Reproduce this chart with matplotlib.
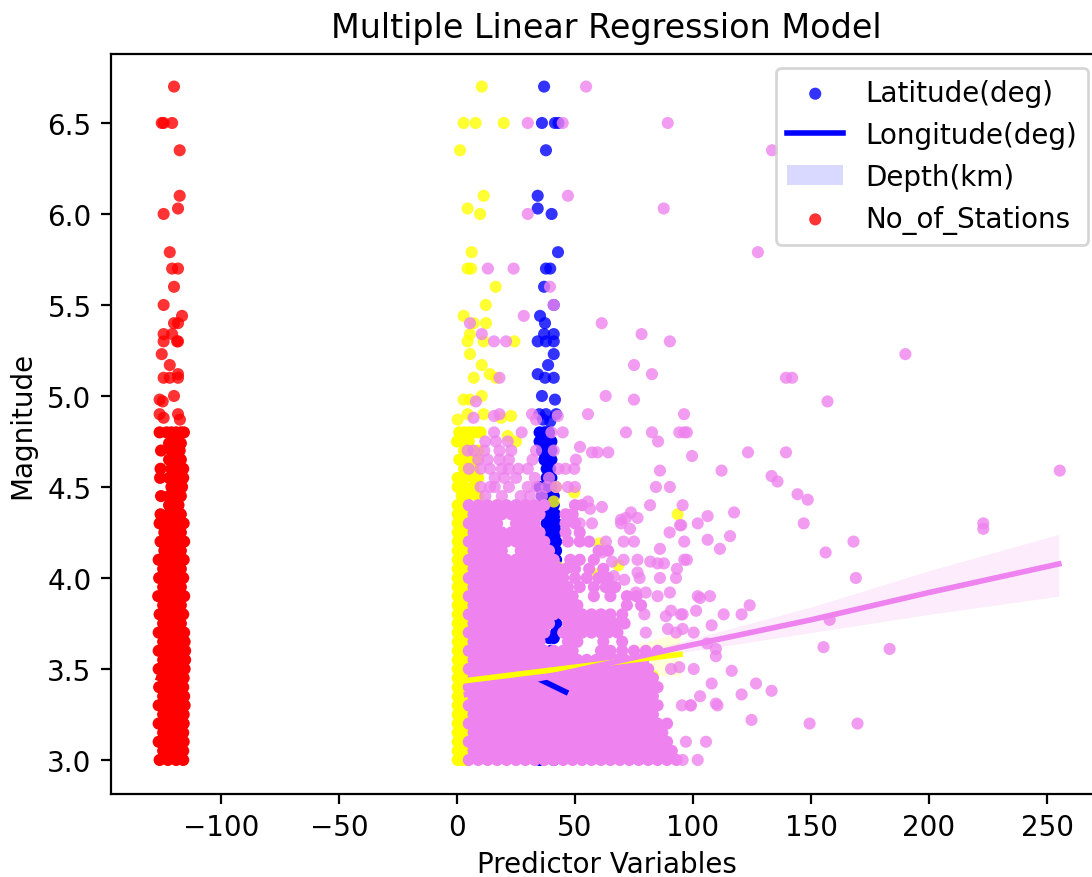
import numpy as np
from matplotlib import pyplot as plt
from matplotlib.colors import to_rgba

# Pontos isolados (x, y)
lat_x = [36.9, 36, 41.5, 43, 37.7, 34.2, 34.2, 40.1, 42.8, 37.7, 39.5, 36.9, 41, 35.2, 37.3, 36.9, 41, 34.2, 37.7, 41,
         41, 38.6, 34.2, 37.3, 41, 36, 41.5, 34.9, 37.7, 42, 36.5, 39.5]
lat_y = [6.7, 6.5, 6.5, 6.5, 6.35, 6.1, 6.03, 6.0, 5.79, 5.7, 5.7, 5.6, 5.5, 5.44, 5.4, 5.34, 5.34, 5.3, 5.3, 5.3,
         5.23, 5.17, 5.12, 5.1, 5.1, 5.0, 4.98, 4.9, 4.9, 4.9, 4.87, 4.86]
# Linhas densas (magnitude, valores de x)
lat_rows = [(4.8, [35, 37, 38, 39]), (4.75, [35, 37, 39, 40]), (4.7, [36, 38, 40]), (4.65, [37, 38.5, 40]),
            (4.6, [38, 39.5]), (4.55, [38, 40]), (4.5, [35, 38, 40]), (4.45, [36, 39, 41]), (4.4, [37, 39, 41]),
            (4.35, [37, 39, 40, 41.5]), (4.3, [38, 40, 41, 42]), (4.25, [39, 40, 42]), (4.2, [40, 41, 42]),
            (4.15, [41, 42]), (4.1, [40, 42]), (4.05, [39, 42.5]),
            (4.0, [33, 39]), (3.9, [36, 40]), (3.75, [42]), (3.7, [42]), (3.67, [39, 41]), (3.6, [35, 40]),
            (3.4, [37, 41]), (3.2, [35, 41]), (3.0, [35, 41])]

lon_x = [-119.9, -125.1, -124.3, -120.7, -117.5, -117.5, -118.2, -124.3, -121.7, -120.7, -118.2, -119.9, -124.3,
         -116.5, -119.9, -118.2, -124.3, -120.7, -124.3, -118.2, -118.6, -125.1, -121.7, -124.3, -121.7, -118.2,
         -118.2, -119.9, -126, -124.7, -126, -124.3, -118.2, -117.4]
lon_y = [6.7, 6.5, 6.5, 6.5, 6.35, 6.1, 6.03, 6.0, 5.79, 5.7, 5.7, 5.6, 5.5, 5.44, 5.4, 5.4, 5.34, 5.34, 5.3, 5.3,
         5.3, 5.23, 5.17, 5.1, 5.1, 5.12, 5.1, 5.0, 4.98, 4.97, 4.9, 4.88, 4.9, 4.87]
lon_rows = [(4.8, [-126, -123, -121, -119, -117, -115.7]), (4.74, [-122, -120, -118, -117]),
            (4.7, [-125.4, -121, -119, -117.5]), (4.65, [-122, -119, -117]), (4.6, [-125.6, -121, -118, -116]),
            (4.55, [-125.8, -122, -119, -116]), (4.5, [-121, -118, -116.5]), (4.45, [-125.4, -122, -119, -117]),
            (4.4, [-122, -120, -118]), (4.35, [-125.6, -122, -119, -117]), (4.3, [-126, -122.5, -119, -115.8]),
            (4.25, [-124, -120.5, -117]), (4.2, [-125.6, -122.5, -119, -115.6]),
            (4.15, [-124, -120.5, -117]), (4.1, [-126.4, -122.5, -119, -115.8]),
            (4.05, [-124.5, -120.5, -117]), (4.0, [-126.2, -122.5, -119, -116]),
            (3.95, [-124.5, -120.5, -117]), (3.9, [-126.6, -122.5, -119, -115.6]),
            (3.85, [-124.5, -120.5, -117]), (3.8, [-126, -122.5, -119, -116]),
            (3.75, [-124.5, -120.5, -117]), (3.7, [-126.4, -122.5, -119, -115.6]),
            (3.65, [-124.5, -120.5, -117, -115.4]), (3.6, [-126.4, -122.5, -119, -115.2]),
            (3.55, [-124.5, -120.5, -117, -115.2]), (3.5, [-126.4, -122.5, -119, -115.4]),
            (3.45, [-124.5, -120.5, -117, -115.8]), (3.4, [-126.2, -122.5, -119, -116]),
            (3.35, [-124.5, -120.5, -117, -115.6]), (3.3, [-126.4, -122.5, -119, -115.4]),
            (3.25, [-124.5, -120.5, -117, -115.8]), (3.2, [-126.4, -122.5, -119, -115.8]),
            (3.15, [-124.5, -120.5, -117, -116]), (3.1, [-126.4, -122.5, -119, -115.8]),
            (3.05, [-124.5, -120.5, -117, -116]), (3.0, [-126, -122.5, -119, -116])]

depth_x = [10.5, 2.8, 7.9, 19.8, 1.3, 11.3, 4.5, 9.8, 6.2, 4.5, 6, 16.4, 12.2, 2.8, 7.1, 12.3, 5.5, 4.5, 11.3, 24.3,
           5.5, 10.5, 7.1, 13.9, 16.5, 10.5, 2.8, 5.5, 4.5, 11.3, 0.3, 18.7, 22.9, 21.5, 25, 49.7, 42, 41, 93.5, 83,
           87, 14.4, 20, 11.6, 20.8, 30, 42.7, 59.2, 60.3, 68.4, 11.6, 30.6]
depth_y = [6.7, 6.5, 6.5, 6.5, 6.35, 6.1, 6.03, 6.0, 5.79, 5.7, 5.7, 5.6, 5.5, 5.44, 5.4, 5.4, 5.34, 5.3, 5.3, 5.3,
           5.23, 5.17, 5.1, 5.12, 5.1, 5.0, 4.98, 4.98, 4.9, 4.9, 4.87, 4.88, 4.89, 4.78, 4.75, 4.47, 4.5, 4.42, 4.35,
           3.46, 3.06, 4.3, 4.2, 4.15, 4.06, 4.25, 4.06, 4.02, 4.19, 4.07, 3.86, 3.87]
depth_rows = [(4.8, [1, 3, 5, 7, 9, 10]), (4.75, [0, 2, 5]), (4.7, [3, 6, 9]), (4.65, [1, 4, 8]), (4.6, [3, 5, 7]),
              (4.55, [0.3, 3, 7, 9]), (4.5, [0.3, 3, 7]), (4.45, [2, 4.5, 9]), (4.4, [0.3, 2, 5, 10, 17]),
              (4.35, [0.3, 2, 6, 10]), (4.3, [0.3, 2, 6]), (4.25, [0.3, 2, 4]), (4.2, [0.3, 2, 4]), (4.15, [0.3, 2, 4]),
              (4.1, [0.3, 2, 4]), (4.05, [0.3, 2, 4]), (4.0, [0.3, 2, 4]), (3.95, [0.3, 2, 4]), (3.9, [0.3, 2, 4]),
              (3.85, [0.3, 2, 4]), (3.8, [0.3, 2, 4]), (3.75, [0.3, 2, 4]), (3.7, [0.3, 2, 4]), (3.65, [0.3, 2, 4]),
              (3.6, [0.3, 2, 4]), (3.55, [0.3, 2, 4]), (3.5, [0.3, 2, 4]), (3.45, [0.3, 2, 4]), (3.4, [0.3, 2, 4]),
              (3.35, [0.3, 2, 4]), (3.3, [0.3, 2, 4]), (3.25, [0.3, 2, 4]), (3.2, [0.3, 2, 4]), (3.15, [0.3, 2, 4]),
              (3.1, [0.3, 2, 4]), (3.05, [0.3, 2, 4]), (3.0, [0.3, 2, 4])]

stations_x = [54.7, 30, 44.8, 89.3, 133.5, 47, 30, 87.6, 127.5, 13.1, 24, 39.4, 41, 28.3, 5.5, 61.3, 10.5, 78.2, 15.7,
              20.8, 90.2, 75, 82.6, 18, 63, 75, 8, 55.5, 96.2, 7, 15.7, 18, 31.8, 33.5, 42.7, 190, 139.4, 142, 157,
              255.4, 223, 223, 168, 156.2, 169, 157.9, 155.3, 183.3, 169.7, 149.4, 124.8, 133.3, 126.7, 120.6, 116.4,
              107.9, 103, 109.7, 110.4, 100.3, 99, 97, 105.5, 102, 95.6, 109.7, 109.7, 106, 100.3, 107.9, 113, 120.6,
              124, 101.3, 95.6, 95.6, 102, 103, 107.2, 96.3, 97.4, 111.4, 106.2, 115.7, 96.3, 146.9, 102, 95, 106.2,
              117.4, 95.6, 148.6, 144.3, 135.8, 133.3, 112.1, 99.6, 123.3, 139.4, 96.3, 97.4, 71.6, 82.6, 94.2, 85.2,
              52.1, 57.2, 59.6, 64.1, 50.4, 86, 84.3, 90.2, 81.8, 61.4, 55.5, 56.4, 52, 57.2, 69.5, 71.6, 73.7, 76.5,
              73.3, 69.5, 90.1, 94.5, 86, 70.6, 75, 63.1, 81.9, 76.5, 70.6, 85, 87.7, 65.7, 61.4, 93.2, 76.5, 77.4,
              86, 92.8, 70.9, 66.5, 75.8, 80, 90.2, 85, 90.7, 94.9, 88.5, 79.4, 80, 89.4, 92.8, 94.2, 90.7, 99.1, 95.3]
stations_y = [6.7, 6.5, 6.5, 6.5, 6.35, 6.1, 6.0, 6.03, 5.79, 5.7, 5.7, 5.6, 5.5, 5.44, 5.4, 5.4, 5.34, 5.34, 5.3,
              5.3, 5.3, 5.17, 5.12, 5.1, 5.0, 4.98, 4.97, 4.9, 4.9, 4.88, 4.89, 4.9, 4.9, 4.87, 4.89, 5.23, 5.1, 5.1,
              4.97, 4.59, 4.3, 4.27, 4.2, 4.14, 4.0, 3.77, 3.62, 3.61, 3.2, 3.2, 3.22, 3.38, 3.42, 3.36, 3.49, 3.42,
              3.35, 3.31, 3.3, 3.5, 3.3, 3.1, 3.1, 3.0, 3.0, 3.61, 3.57, 3.64, 3.7, 3.74, 3.8, 3.8, 3.85, 3.82, 3.8,
              3.72, 3.9, 3.89, 3.9, 4.1, 4.1, 4.16, 4.21, 4.23, 4.2, 4.3, 4.3, 4.29, 4.34, 4.36, 4.4, 4.43, 4.46, 4.53,
              4.56, 4.59, 4.67, 4.69, 4.69, 4.8, 4.8, 4.8, 4.8, 4.8, 4.75, 4.72, 4.69, 4.69, 4.69, 4.65, 4.59, 4.5, 4.5,
              4.4, 4.39, 4.42, 4.38, 4.3, 4.3, 4.32, 4.33, 4.36, 4.33, 4.27, 4.3, 4.25, 4.29, 4.16, 4.2, 4.2, 4.2, 4.09,
              4.1, 4.1, 4.08, 4.08, 4.09, 4.14, 4.05, 4.03, 4.0, 4.0, 4.0, 3.99, 4.01, 3.92, 3.92, 3.92, 3.9, 3.82, 3.8,
              3.79, 3.8, 3.7, 3.72, 3.7, 3.51, 3.5, 3.3, 3.3]
stations_rows = [
    (4.8, [15.7, 27.4, 40, 44.8]),
    (4.75, [12, 16.5, 21.5]),
    (4.7, [4.5, 7, 11.6, 18, 23, 33.5, 41]),
    (4.65, [9, 13, 18, 22, 32]),
    (4.6, [5, 10, 14, 19, 22, 26, 30, 43, 46, 49.7]),
    (4.55, [16, 20, 25, 33, 39]),
    (4.5, [10, 14, 16, 22, 30, 34, 38, 42, 47, 50]),
    (4.45, [12, 19, 27, 31, 36]),
    (4.4, [5, 9, 13, 17, 21, 25, 29, 33, 37, 50, 53]),
    (4.35, [7, 11, 15, 19, 23, 27, 31, 35, 46, 49]),
    (4.3, [5, 9, 13, 17, 25, 29, 33, 46, 50]),
    (4.25, [7, 11, 15, 19, 23, 27, 31, 35, 46, 52]),
    (4.2, [5, 9, 13, 17, 21, 25, 29, 33, 37, 47, 52, 56]),
    (4.15, [7, 11, 15, 19, 27, 31, 35, 39, 60, 64]),
    (4.1, [5, 9, 13, 17, 21, 25, 29, 33, 37, 41, 48, 52, 58]),
    (4.05, [7, 11, 15, 19, 23, 27, 31, 35, 39, 43, 46, 50, 56, 62]),
    (4.0, [5, 9, 13, 17, 21, 25, 29, 33, 37, 41, 45, 50, 55, 60, 64]),
    (3.95, [7, 11, 15, 19, 23, 27, 31, 35, 39, 43, 47, 52, 58, 63, 67]),
    (3.9, [5, 9, 13, 17, 21, 25, 29, 33, 37, 41, 45, 49, 58, 65, 72, 76]),
    (3.85, [7, 11, 15, 19, 23, 27, 31, 35, 39, 43, 47, 51, 72, 78]),
    (3.8, [5, 9, 13, 17, 21, 25, 29, 33, 37, 41, 45, 49, 53, 57, 61, 65, 70]),
    (3.75, [7, 11, 15, 19, 23, 27, 31, 35, 39, 47, 51, 55, 59, 63, 67, 71]),
    (3.7, [5, 9, 13, 17, 21, 25, 29, 33, 37, 45, 49, 53, 57, 61, 64, 68]),
    (3.65, [7, 11, 15, 19, 23, 27, 31, 35, 47, 51, 62, 70]),
    (3.6, [5, 9, 13, 17, 21, 25, 29, 33, 37, 41, 45, 49, 61, 65, 70, 75, 80, 85]),
    (3.55, [7, 11, 15, 19, 23, 27, 31, 35, 39, 43, 47, 51, 55, 59, 63, 67, 71, 75, 79]),
    (3.5, [5, 9, 13, 17, 21, 25, 29, 33, 37, 41, 45, 49, 53, 57, 61, 65, 69, 73, 77, 81]),
    (3.45, [7, 11, 15, 19, 23, 27, 31, 35, 39, 43, 47, 51, 55, 59, 63, 67, 71, 75, 79, 83]),
    (3.4, [5, 9, 13, 17, 21, 25, 29, 33, 37, 41, 45, 49, 53, 57, 61, 65, 69, 73, 77, 81, 85]),
    (3.35, [7, 11, 15, 19, 23, 27, 31, 35, 39, 43, 47, 51, 55, 59, 63, 67, 71, 75, 79, 83]),
    (3.3, [5, 9, 13, 17, 21, 25, 29, 33, 37, 41, 45, 49, 53, 57, 61, 65, 69, 73, 77, 81, 85]),
    (3.25, [7, 11, 15, 19, 23, 27, 31, 35, 39, 43, 47, 51, 55, 59, 63, 67, 71, 75, 79, 83]),
    (3.2, [5, 9, 13, 17, 21, 25, 29, 33, 37, 41, 45, 49, 53, 57, 61, 65, 69, 73, 77, 81, 85, 89]),
    (3.15, [7, 11, 15, 19, 23, 27, 31, 35, 39, 43, 47, 51, 55, 59, 63, 67, 71, 75, 79, 83, 87]),
    (3.1, [5, 9, 13, 17, 21, 25, 29, 33, 37, 41, 45, 49, 53, 57, 61, 65, 69, 73, 77, 81, 85, 89]),
    (3.05, [7, 11, 15, 19, 23, 27, 31, 35, 39, 43, 47, 51, 55, 59, 63, 67, 71, 75, 79, 83, 87, 91]),
    (3.0, [5, 9, 13, 17, 21, 25, 29, 33, 37, 41, 45, 49, 53, 57, 61, 65, 69, 73, 77, 81, 85, 89, 93]),
]

# Retas de regressao e intervalos de confianca
lat_fit_x = [35.5, 46]
lat_fit_y = [3.44, 3.374]
lat_band_lo = [3.42, 3.35]
lat_band_hi = [3.46, 3.40]

lon_fit_x = [-126.5, -115]
lon_fit_y = [3.45, 3.40]
lon_band_lo = [3.42, 3.37]
lon_band_hi = [3.48, 3.43]

depth_fit_x = [0, 25, 50, 75, 94.5]
depth_fit_y = [3.43, 3.47, 3.51, 3.55, 3.58]
depth_band_lo = [3.41, 3.45, 3.47, 3.47, 3.46]
depth_band_hi = [3.45, 3.49, 3.55, 3.63, 3.70]

stations_fit_x = [4, 50, 95, 150, 200, 255]
stations_fit_y = [3.36, 3.49, 3.62, 3.77, 3.92, 4.077]
stations_band_lo = [3.33, 3.47, 3.59, 3.70, 3.80, 3.90]
stations_band_hi = [3.39, 3.51, 3.65, 3.84, 4.04, 4.24]


def juntar(xs, ys, linhas, cor, limite):
    # Junta os pontos isolados com as linhas densas; abaixo do limite a nuvem fica opaca
    todos_x = list(xs)
    todos_y = list(ys)
    cores = [to_rgba(cor, 0.8)] * len(xs)
    for y, valores in linhas:
        todos_x += valores
        todos_y += [y] * len(valores)
        alpha = 1.0 if y <= limite else 0.8
        cores += [to_rgba(cor, alpha)] * len(valores)
    return np.array(todos_x), np.array(todos_y), cores


def regplot(ax, dados, fit_x, fit_y, lo, hi, cor):
    xs, ys, cores = dados
    ax.scatter(xs, ys, s=19, c=cores, linewidths=0, zorder=1)
    ax.plot(fit_x, fit_y, color=cor, lw=2, zorder=2)
    ax.fill_between(fit_x, lo, hi, color=cor, alpha=0.15, linewidth=0, zorder=1)


fig = plt.figure(figsize=(5.46, 4.39), dpi=200)
ax = fig.add_axes([111 / 1092, 83 / 878, 991 / 1092, 740 / 878])

regplot(ax, juntar(lat_x, lat_y, lat_rows, 'blue', 4.8), lat_fit_x, lat_fit_y, lat_band_lo, lat_band_hi, 'blue')
regplot(ax, juntar(lon_x, lon_y, lon_rows, 'red', 4.8), lon_fit_x, lon_fit_y, lon_band_lo, lon_band_hi, 'red')
regplot(ax, juntar(depth_x, depth_y, depth_rows, 'yellow', 4.8), depth_fit_x, depth_fit_y, depth_band_lo,
        depth_band_hi, 'yellow')
regplot(ax, juntar(stations_x, stations_y, stations_rows, 'violet', 4.4), stations_fit_x, stations_fit_y,
        stations_band_lo, stations_band_hi, 'violet')

ax.set_xlim(-146.6, 273.3)
ax.set_ylim(2.813, 6.879)
ax.set_xticks([-100, -50, 0, 50, 100, 150, 200, 250])
ax.set_yticks([3.0, 3.5, 4.0, 4.5, 5.0, 5.5, 6.0, 6.5])

ax.set_title("Multiple Linear Regression Model")
ax.set_xlabel("Predictor Variables", labelpad=3)
ax.set_ylabel("Magnitude")
ax.legend(["Latitude(deg)", "Longitude(deg)", "Depth(km)", "No_of_Stations"], loc='upper right')

fig.savefig("out.png", dpi=200)
